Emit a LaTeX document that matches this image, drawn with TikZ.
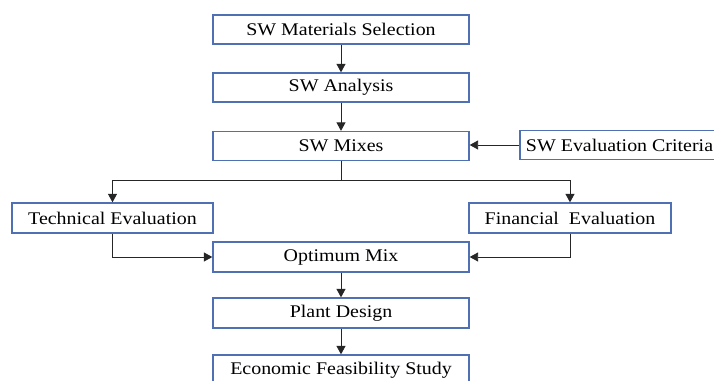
\documentclass[tikz,border=0pt]{standalone}
\usepackage{fontspec}
\setmainfont{Liberation Serif}[FakeStretch=1.12]
\usetikzlibrary{arrows.meta}
\definecolor{boxblue}{RGB}{79,113,180}
\tikzset{
  flowbox/.style={draw=boxblue, line width=1.3pt, fill=white, minimum height=29pt, inner sep=0pt, font=\fontsize{17.8}{20}\selectfont, text=black},
  mainbox/.style={flowbox, minimum width=256pt},
  link/.style={draw=black!85, line width=0.9pt},
  arr/.style={link, -{Triangle[length=8.5pt,width=9pt]}}
}
\begin{document}
\begin{tikzpicture}[x=1pt,y=-1pt]
\useasboundingbox (0,0) rectangle (714,380);
\node[mainbox] (sel) at (341,29.5) {SW Materials Selection};
\node[mainbox] (ana) at (341,87.5) {SW Analysis};
\node[mainbox] (mix) at (341,146) {SW Mixes};
\node[flowbox, minimum width=199pt] (crit) at (619.5,145) {SW Evaluation Criteria};
\node[flowbox, minimum width=201pt, minimum height=30pt] (tech) at (112.5,218) {Technical Evaluation};
\node[flowbox, minimum width=202pt, minimum height=30pt] (fin) at (570,218) {Financial\ \ Evaluation};
\node[mainbox, minimum height=30pt] (opt) at (341,257) {Optimum Mix};
\node[mainbox, minimum height=30pt] (plant) at (341,313) {Plant Design};
\node[mainbox, minimum height=30pt] (eco) at (341,370) {Economic Feasibility Study};
\coordinate (bj) at (341,180);
\draw[arr] (sel) -- (ana);
\draw[arr] (ana) -- (mix);
\draw[arr] (crit.west) -- (mix.east |- crit.west);
\draw[link] (mix.south) -- (bj);
\draw[arr] (bj) -| (tech.north);
\draw[arr] (bj) -| (fin.north);
\draw[arr] (tech.south) |- (opt.west);
\draw[arr] (fin.south) |- (opt.east);
\draw[arr] (opt) -- (plant);
\draw[arr] (plant) -- (eco);
\end{tikzpicture}
\end{document}
